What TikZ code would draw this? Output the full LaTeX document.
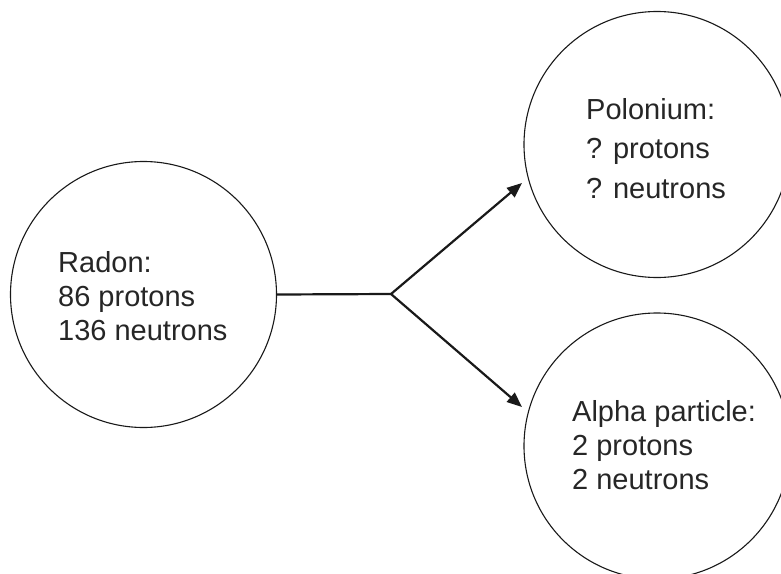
\documentclass[tikz,border=0pt]{standalone}
\usepackage{fontspec}
\setmainfont{Liberation Sans}
\usetikzlibrary{arrows.meta}

\begin{document}
\begin{tikzpicture}[
  x=1pt, y=-1pt,
  atom/.style={draw=black!90, circle, line width=1.1pt, minimum size=266pt, inner sep=0pt},
  lbl/.style={anchor=north west, align=left, inner sep=0pt, text=black!85,
              font=\fontsize{29}{34}\selectfont},
  arr/.style={-{Triangle[length=15pt,width=12pt]}, line width=2.2pt, draw=black!90},
  stem/.style={line width=2.2pt, draw=black!90},
]
\useasboundingbox (0,0) rectangle (781,573);
\clip (0,0) rectangle (781,573);

%% ── ATOMS ───────────────────────────────────────────────────────────────────
\node[atom] (radon)    at (143.5,294.5) {};
\node[atom] (polonium) at (657,144.5)   {};
\node[atom] (alpha)    at (657,446)     {};

%% ── LABELS ──────────────────────────────────────────────────────────────────
\node[lbl] (radonlbl) at (58,251)
  {Radon:\\86 protons\\136 neutrons};
\node[lbl, font=\fontsize{29}{39.5}\selectfont] (pololbl) at (586,98)
  {Polonium:\\? protons\\? neutrons};
\node[lbl] (alphalbl) at (572,400)
  {Alpha particle:\\2 protons\\2 neutrons};

%% ── DECAY ARROWS ────────────────────────────────────────────────────────────
\coordinate (split) at (391,294);
\coordinate (potip) at (522,183);
\coordinate (altip) at (522,407);
\draw[stem] (radon.east) -- (split);
\draw[arr] (split) -- (potip);
\draw[arr] (split) -- (altip);
\end{tikzpicture}
\end{document}
